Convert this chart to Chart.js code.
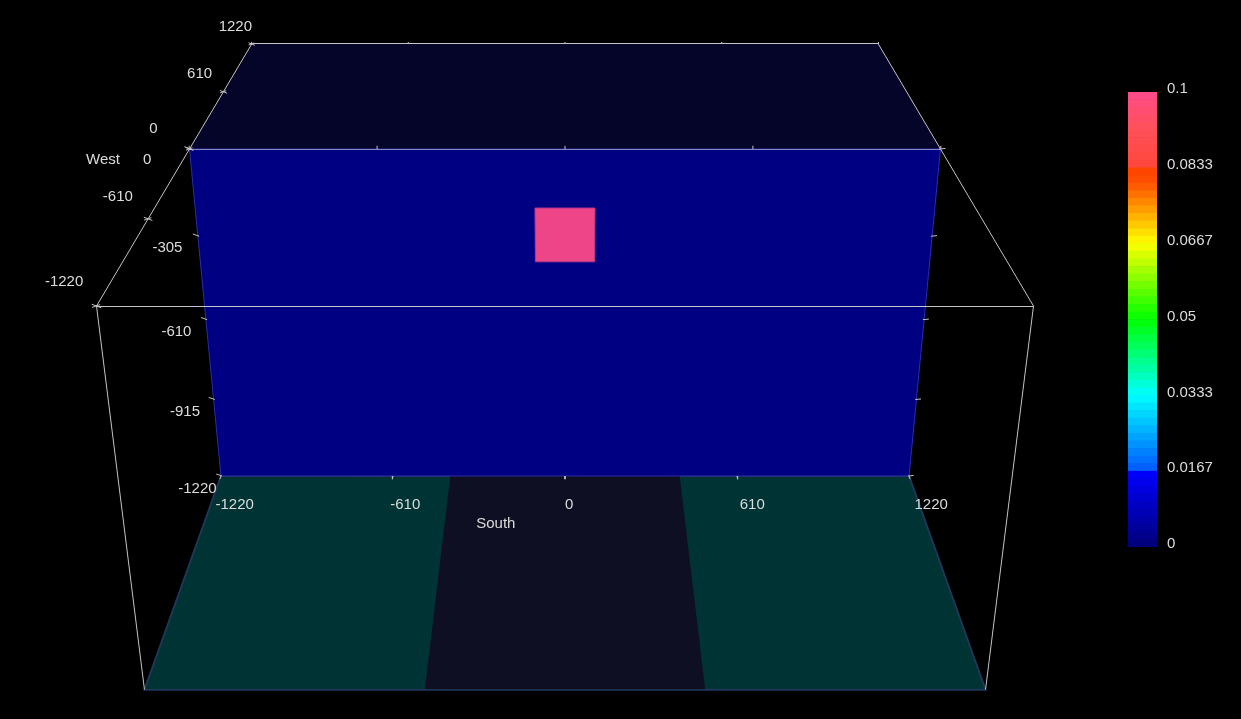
<!DOCTYPE html>
<html><head><meta charset="utf-8">
<script src="https://cdn.jsdelivr.net/npm/chart.js@4.4.0/dist/chart.umd.min.js"></script>
<style>
html,body{margin:0;padding:0;background:#000;overflow:hidden}
#wrap{position:relative;width:1241px;height:719px;background:#000}
#main{position:absolute;left:0;top:0}
#bar{position:absolute;left:1100px;top:70px}
</style></head><body>
<div id="wrap"><canvas id="main" width="1241" height="719"></canvas><canvas id="bar" width="141" height="500"></canvas></div>
<script>
// ---------------- data ----------------
const southTicks  = [-1220, -610, 0, 610, 1220];
const southLabels = ['-1220', '-610', '0', '610', '1220'];
const westTicks   = [-1220, -610, 0, 610, 1220];
const westLabels  = ['-1220', '-610', '0', '610', '1220'];
const depthTicks  = [0, -305, -610, -915, -1220];
const depthLabels = ['0', '-305', '-610', '-915', '-1220'];
const domainSouth = [-1220, 1220];
const domainWest  = [-1220, 1220];
const domainDepth = [0, -1220];
const sectionWest = 0;                 // west position of the vertical section
const sectionValue = 0;                // background value of the section
const cellSouth = [-99, 99];           // the single non-zero cell
const cellDepth = [-205, -397];
const cellValue = 0.1;
const floorStripeSouth = [-406.7, 406.7];
const colorbarTicks  = [0, 0.0167, 0.0333, 0.05, 0.0667, 0.0833, 0.1];
const colorbarLabels = ['0', '0.0167', '0.0333', '0.05', '0.0667', '0.0833', '0.1'];
const colorbarRange = [0, 0.1];
const colorbarSteps = 60;

// ---------------- view (layout) ----------------
const V = {R:1220, cx:565, hw:375.5, ku:0.1985, kv:-0.0914, y0:149, yu:-96.27, yv:-370.5};
function proj(s, w, d){
  const u = w / V.R, v = d / V.R;
  const z = 1 + V.ku*u + V.kv*v;
  return {x: V.cx + V.hw*(s/V.R)/z, y: (V.y0 + V.yu*u + V.yv*v)/z};
}
function projSnap(s, w, d){
  const p = proj(s, w, d);
  return {x: Math.round(p.x - 0.5) + 0.5, y: Math.round(p.y - 0.5) + 0.5};
}

// ---------------- colours ----------------
const C = {
  backGround:'#05052a', plane:'#000082', planeEdge:'#2c2ca6', planeTop:'#8585c4',
  cell:'#ee4488', cellEdge:'#b8388a', floor:'#003434', stripe:'#0f0f23', floorEdge:'#1f3656',
  wire:'#c4c4c4', text:'#dcdcdc'
};
const cmapStops = [
  [0.000, [0,0,120]], [0.165, [0,0,255]], [0.168, [0,90,255]], [0.333, [0,255,255]],
  [0.500, [0,255,0]], [0.667, [255,255,0]], [0.800, [255,80,0]], [0.835, [255,64,0]],
  [0.838, [255,72,60]], [0.92, [255,80,90]], [1.000, [255,76,140]]
];
function cmap(t){
  for (let i = 1; i < cmapStops.length; i++){
    const [t1, c1] = cmapStops[i], [t0, c0] = cmapStops[i-1];
    if (t <= t1){
      const f = (t - t0)/(t1 - t0);
      return 'rgb(' + c0.map((c,k)=>Math.round(c + (c1[k]-c)*f)).join(',') + ')';
    }
  }
  return 'rgb(255,76,140)';
}

// ---------------- layers ----------------
const layers = [];
function poly(pts, fillColor, edgeColor, edgeWidth){
  layers.push({data: pts.concat([pts[0]]), showLine:true, fill: fillColor ? 'shape' : false,
    backgroundColor: fillColor || 'transparent', borderColor: edgeColor || 'transparent',
    borderWidth: edgeColor ? (edgeWidth || 1) : 0, pointRadius:0, tension:0});
}
function seg(a, b, color){
  layers.push({data:[a, b], showLine:true, fill:false, borderColor: color || C.wire,
    borderWidth:1, pointRadius:0, tension:0});
}
const [s0, s1] = domainSouth, [w0, w1] = domainWest, [dTop, dBot] = domainDepth;

// ground surface behind the section
poly([proj(s0,w1,dTop), proj(s1,w1,dTop), proj(s1,sectionWest,dTop), proj(s0,sectionWest,dTop)], C.backGround);
// floor in front of the section
poly([proj(s0,sectionWest,dBot), proj(s1,sectionWest,dBot), proj(s1,w0,dBot), proj(s0,w0,dBot)], C.floor, C.floorEdge, 2);
poly([proj(floorStripeSouth[0],sectionWest,dBot), proj(floorStripeSouth[1],sectionWest,dBot),
      proj(floorStripeSouth[1],w0,dBot), proj(floorStripeSouth[0],w0,dBot)], C.stripe);
seg(proj(s0,w0,dBot), proj(s1,w0,dBot), C.floorEdge);
// vertical section
poly([proj(s0,sectionWest,dTop), proj(s1,sectionWest,dTop), proj(s1,sectionWest,dBot), proj(s0,sectionWest,dBot)], C.plane, C.planeEdge, 1);
// value cell
poly([proj(cellSouth[0],sectionWest,cellDepth[0]), proj(cellSouth[1],sectionWest,cellDepth[0]),
      proj(cellSouth[1],sectionWest,cellDepth[1]), proj(cellSouth[0],sectionWest,cellDepth[1])], C.cell, C.cellEdge, 1);
// top edge of section
seg(projSnap(s0,sectionWest,dTop), projSnap(s1,sectionWest,dTop), C.planeTop);
// wireframe
seg(projSnap(s0,w1,dTop), projSnap(s1,w1,dTop));
seg(projSnap(s0,w0,dTop), projSnap(s1,w0,dTop));
seg(proj(s0,w1,dTop), proj(s0,w0,dTop));
seg(proj(s1,w1,dTop), proj(s1,w0,dTop));
seg(proj(s0,w0,dTop), proj(s0,w0,dBot));
seg(proj(s1,w0,dTop), proj(s1,w0,dBot));
// ticks
southTicks.forEach(s => {
  seg(proj(s,w1,dTop), proj(s,w1,dTop+8));
  seg(proj(s,sectionWest,dTop), proj(s,sectionWest,dTop+11));
  seg(proj(s,sectionWest,dBot), proj(s,sectionWest-22,dBot));
});
westTicks.forEach(w => {
  seg(proj(s0-12,w,dTop+5), proj(s0+12,w,dTop-5));
  seg(proj(s0-12,w,dTop-4), proj(s0+10,w,dTop+4));
});
depthTicks.forEach(d => {
  seg(proj(s0-16,sectionWest,d+8), proj(s0+4,sectionWest,d));
  seg(proj(s1+16,sectionWest,d+2), proj(s1-4,sectionWest,d));
});
layers.forEach((l, i) => { l.order = layers.length - i; });

// ---------------- labels ----------------
const labels3d = {
  id:'labels3d',
  afterDatasetsDraw(chart){
    const {ctx} = chart, xs = chart.scales.x, ys = chart.scales.y;
    ctx.save();
    ctx.font = '15px "Liberation Sans", Arial, sans-serif';
    ctx.fillStyle = C.text; ctx.textAlign = 'left'; ctx.textBaseline = 'middle';
    const put = (t, p, dx, dy) => ctx.fillText(t, xs.getPixelForValue(p.x) + dx, ys.getPixelForValue(p.y) + dy);
    westTicks.forEach((w, i) => put(westLabels[i], proj(s0-130, w, dTop+75), 2, 2));
    depthTicks.forEach((d, i) => put(depthLabels[i], proj(s0-155, sectionWest, d-38), 0, 0 + (-d/1220)*4));
    southTicks.forEach((s, i) => put(southLabels[i], proj(s, sectionWest-105, dBot), 0, 14));
    put('West', proj(s0-155, sectionWest, dTop-38), -57, 0);
    put('South', proj(-310, sectionWest-105, dBot), 0, 33);
    ctx.restore();
  }
};

new Chart(document.getElementById('main'), {
  type:'scatter',
  data:{datasets: layers},
  options:{
    responsive:false, animation:false, events:[],
    layout:{padding:0},
    plugins:{legend:{display:false}, tooltip:{enabled:false}},
    scales:{
      x:{type:'linear', min:0, max:1241, display:false},
      y:{type:'linear', min:0, max:719, reverse:true, display:false}
    }
  },
  plugins:[labels3d]
});

// ---------------- colour bar ----------------
const bands = [];
const step = (colorbarRange[1] - colorbarRange[0]) / colorbarSteps;
for (let i = 0; i < colorbarSteps; i++){
  bands.push({data:[[colorbarRange[0] + i*step, colorbarRange[0] + (i+1)*step]],
    backgroundColor: cmap((i + 0.5)/colorbarSteps), borderWidth:0,
    barPercentage:1, categoryPercentage:1, grouped:false});
}
new Chart(document.getElementById('bar'), {
  type:'bar',
  data:{labels:[''], datasets:bands},
  options:{
    responsive:false, animation:false, events:[],
    layout:{padding:{left:28, top:22, bottom:23, right:0}},
    plugins:{legend:{display:false}, tooltip:{enabled:false}},
    scales:{
      x:{display:false},
      y:{position:'right', min:colorbarRange[0], max:colorbarRange[1],
         grid:{display:false, drawTicks:false}, border:{display:false},
         afterBuildTicks: s => { s.ticks = colorbarTicks.map(v => ({value:v})); },
         afterFit: s => { s.width = 84; },
         ticks:{padding:10, labelOffset:-3, color:C.text, font:{family:'Liberation Sans', size:15},
                autoSkip:false, callback:(v, i) => colorbarLabels[i]}}
    }
  }
});
</script>
</body></html>
